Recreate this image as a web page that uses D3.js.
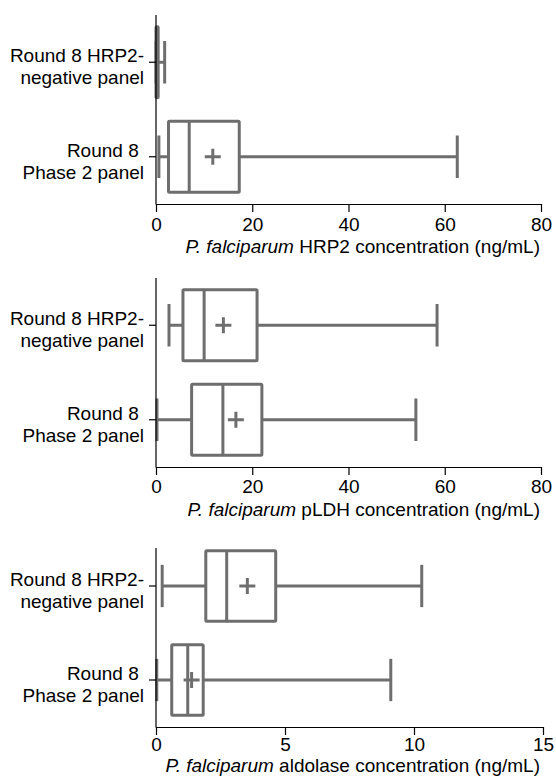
<!DOCTYPE html>
<html>
<head>
<meta charset="utf-8">
<script src="https://cdn.jsdelivr.net/npm/d3@7"></script>
<style>
  html, body { margin: 0; padding: 0; background: #fff; }
  svg { display: block; }
  text { font-family: "Liberation Sans", Arial, Helvetica, sans-serif; }
</style>
</head>
<body>
<svg id="chart" width="556" height="776"></svg>
<script>
// ---------- data ----------
const categories = ["Round 8 HRP2-negative panel", "Round 8 Phase 2 panel"];
const categoryLines = [["Round 8 HRP2-", "negative panel"], ["Round 8\u00a0", "Phase 2 panel"]];
const analytes = ["HRP2", "pLDH", "aldolase"];
const xMax = [80, 80, 15];
const xTicks = [[0, 20, 40, 60, 80], [0, 20, 40, 60, 80], [0, 5, 10, 15]];

// per panel, per category: [whiskerLow, q1, median, q3, whiskerHigh, mean]
const hrp2Stats = [[0, 0, 0.2, 0.45, 1.8, null], [0.6, 2.6, 6.9, 17.3, 62.6, 11.8]];
const pldhStats = [[2.7, 5.6, 10.0, 21.0, 58.4, 14.0], [0.2, 7.4, 13.9, 22.0, 54.0, 16.6]];
const aldolaseStats = [[0.24, 1.93, 2.74, 4.64, 10.3, 3.54], [0.03, 0.61, 1.23, 1.83, 9.1, 1.38]];
const panelStats = [hrp2Stats, pldhStats, aldolaseStats];

// ---------- layout ----------
const layout = [
  { axisTop: 15,  bandTop: 15,  axisY: 204, x0: 156, x1: 541, tickPad: 5.5, titleDy: 48.5 },
  { axisTop: 278, bandTop: 278, axisY: 467, x0: 156, x1: 541, tickPad: 5,   titleDy: 48.5 },
  { axisTop: 548, bandTop: 539, axisY: 727, x0: 156, x1: 543, tickPad: 2.5, titleDy: 45 }
];
const boxColor = "#6e6e6e";
const fontSize = 19;

const svg = d3.select("#chart");
svg.append("rect").attr("width", 556).attr("height", 776).attr("fill", "#fff");

panelStats.forEach((stats, p) => {
  const L = layout[p];
  const x = d3.scaleLinear().domain([0, xMax[p]]).range([L.x0, L.x1]);
  const y = d3.scaleBand().domain(categories).range([L.bandTop, L.axisY]).padding(0);
  const bw = y.bandwidth();
  const boxH = bw * 0.75;
  const capH = bw * 0.45;
  const g = svg.append("g");

  // boxes
  categories.forEach((c, i) => {
    const [lo, q1, med, q3, hi, mean] = stats[i];
    const cy = y(c) + bw / 2;
    const bg = g.append("g")
      .attr("stroke", boxColor).attr("stroke-width", 3).attr("fill", "none")
      .attr("stroke-linejoin", "round");
    bg.append("line").attr("x1", x(lo)).attr("x2", x(q1)).attr("y1", cy).attr("y2", cy);
    bg.append("line").attr("x1", x(q3)).attr("x2", x(hi)).attr("y1", cy).attr("y2", cy);
    bg.append("line").attr("x1", x(lo)).attr("x2", x(lo)).attr("y1", cy - capH / 2).attr("y2", cy + capH / 2);
    bg.append("line").attr("x1", x(hi)).attr("x2", x(hi)).attr("y1", cy - capH / 2).attr("y2", cy + capH / 2);
    bg.append("rect").attr("x", x(q1)).attr("width", Math.max(0, x(q3) - x(q1)))
      .attr("y", cy - boxH / 2).attr("height", boxH).attr("fill", "#fff").attr("rx", 1);
    bg.append("line").attr("x1", x(med)).attr("x2", x(med)).attr("y1", cy - boxH / 2).attr("y2", cy + boxH / 2);
    if (mean !== null) {
      bg.append("line").attr("x1", x(mean) - 8).attr("x2", x(mean) + 8).attr("y1", cy).attr("y2", cy);
      bg.append("line").attr("x1", x(mean)).attr("x2", x(mean)).attr("y1", cy - 8).attr("y2", cy + 8);
    }
  });

  // y axis
  g.append("line").attr("x1", L.x0).attr("x2", L.x0).attr("y1", L.axisTop).attr("y2", L.axisY + 0.5)
    .attr("stroke", "#000").attr("stroke-width", 1.2);
  categories.forEach((c, i) => {
    const cy = y(c) + bw / 2;
    g.append("line").attr("x1", L.x0 - 7).attr("x2", L.x0).attr("y1", cy).attr("y2", cy)
      .attr("stroke", "#000").attr("stroke-width", 1.2);
    const t = g.append("text").attr("text-anchor", "end").attr("font-size", fontSize).attr("fill", "#000")
      .style("white-space", "pre");
    categoryLines[i].forEach((line, k) => {
      t.append("tspan").attr("x", L.x0 - 12).attr("y", cy + k * 22).text(line);
    });
  });

  // x axis
  const ax = g.append("g").attr("transform", `translate(0,${L.axisY})`)
    .call(d3.axisBottom(x).tickValues(xTicks[p]).tickSize(8).tickSizeOuter(0).tickPadding(L.tickPad).tickFormat(d3.format("d")));
  ax.select(".domain").attr("stroke", "#000").attr("stroke-width", 1.2);
  ax.selectAll(".tick line").attr("stroke", "#000").attr("stroke-width", 1.2);
  ax.selectAll(".tick text").attr("font-size", fontSize).attr("fill", "#000")
    .attr("font-family", "Liberation Sans, Arial, sans-serif");

  // axis title
  const title = g.append("text").attr("x", 540).attr("y", L.axisY + L.titleDy)
    .attr("text-anchor", "end").attr("font-size", fontSize).attr("fill", "#000");
  title.append("tspan").attr("font-style", "italic").text("P. falciparum");
  title.append("tspan").text(` ${analytes[p]} concentration (ng/mL)`);
});
</script>
</body>
</html>
